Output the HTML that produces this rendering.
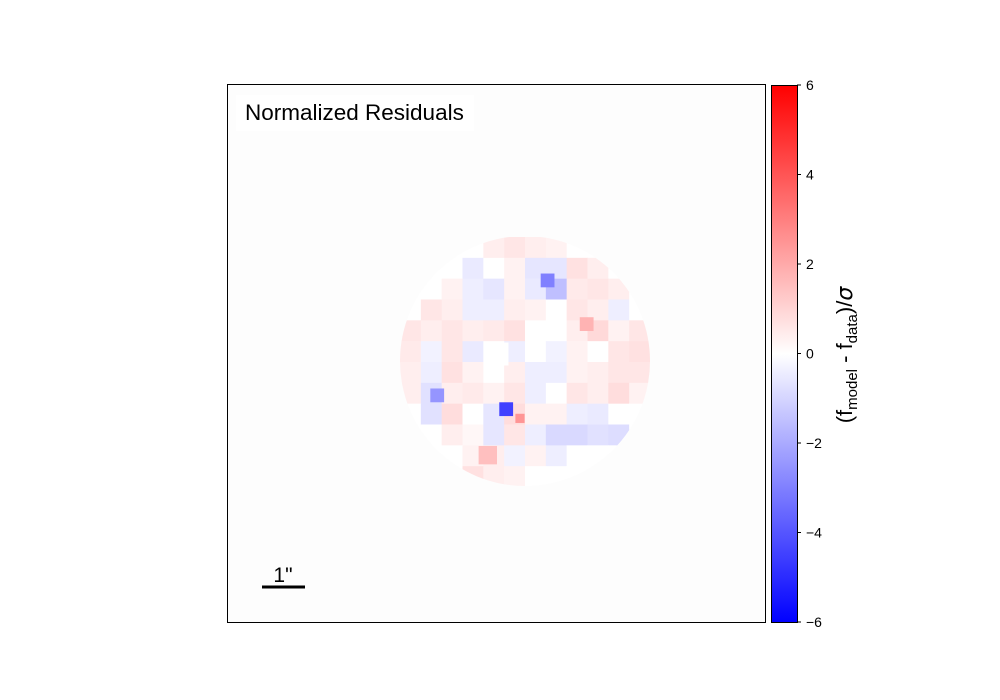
<!DOCTYPE html>
<html><head><meta charset="utf-8"><style>
body{margin:0;background:#fff;}
svg{display:block;font-family:"Liberation Sans","DejaVu Sans",sans-serif;}
</style></head><body>
<svg id="chart" width="1000" height="700" viewBox="0 0 1000 700">
<defs>
<linearGradient id="bwr" x1="0" y1="1" x2="0" y2="0">
<stop offset="0" stop-color="#0000ff"/><stop offset="0.5" stop-color="#ffffff"/><stop offset="1" stop-color="#ff0000"/>
</linearGradient>
<clipPath id="disk"><circle cx="525" cy="361" r="125"/></clipPath>
</defs>
<rect x="228" y="85" width="538" height="538" fill="#fdfdfd"/>
<g id="cells" clip-path="url(#disk)"></g>
<g id="blobs"></g>
<rect x="227.5" y="84.5" width="538" height="538" fill="none" stroke="#000" stroke-width="1" shape-rendering="crispEdges"/>
<rect x="236" y="95" width="238" height="36" fill="#fff"/>
<text x="245" y="120" font-size="22.5" fill="#000">Normalized Residuals</text>
<line x1="262" y1="587" x2="305" y2="587" stroke="#000" stroke-width="3"/>
<text x="283" y="582" font-size="21" text-anchor="middle">1"</text>
<rect x="771.5" y="85.5" width="26" height="537" fill="url(#bwr)" stroke="#000" stroke-width="1" shape-rendering="crispEdges"/>
<g id="cbticks"></g>
<text transform="translate(852,355) rotate(-90)" font-size="22" text-anchor="middle">(f<tspan font-size="15" dy="5">model</tspan><tspan dy="-5"> - f</tspan><tspan font-size="15" dy="5">data</tspan><tspan dy="-5">)/</tspan><tspan font-style="italic" font-family="DejaVu Sans">σ</tspan></text>
</svg>
<script>
const gridValues = [
 [0,0,0,0,0.4,0.6,0.4,0.3,0,0,0,0],
 [0,0,0,-0.5,0,0.3,-0.6,-0.6,0.7,0.4,0,0],
 [0,0,0.3,-0.4,-0.6,0.3,-0.5,-1.5,0.5,0.6,0.4,0],
 [0,0.6,0.4,-0.4,-0.4,0.4,0.3,0,0.6,0.4,-0.4,0],
 [0.6,0.4,0.6,0.4,0.5,0.7,0,0,0.4,0.9,0.3,0.6],
 [0.5,-0.3,0.6,-0.5,0,-0.4,0,-0.3,0.3,0,0.6,0.7],
 [0.4,-0.4,0.7,0.3,0,0.4,-0.4,-0.4,0.3,0.4,0.6,0.6],
 [0.4,-0.7,0.4,0.5,0.3,0.6,-0.4,0,0.6,0.4,0.8,0.3],
 [0,-0.7,0.8,0,-0.6,0.8,0.3,0.3,-0.4,-0.5,0,0],
 [0,0,0.4,0.2,-0.6,0.6,-0.4,-0.9,-0.9,-0.7,-0.8,0],
 [0,0,0,0.3,0.4,-0.3,0.3,-0.4,0,0,0,0],
 [0,0,0,0.7,0.4,0.3,0,0,0,0,0,0]
];
// feature positions in image-pixel units (0..117 across the frame)
const blobCol = [69.5, 58.5, 45.5, 60.5, 63.5, 78, 56.5];
const blobRow = [42.5, 58.5, 67.5, 70.5, 72.5, 52, 80.5];
const blobVal = [-3, 0, -2.5, -4.5, 2.5, 1.8, 1.5];
const blobSize = [3, 5, 3, 3, 2, 3, 4];
const cbTicks = [6,4,2,0,-2,-4,-6];
const cbLabels = ["6","4","2","0","\u22122","\u22124","\u22126"];

const NS="http://www.w3.org/2000/svg";
const imgX0=228, imgY0=85, imgSize=538, nPix=117, pix=imgSize/nPix;
const gx0=400, gy0=237, gCell=250/12;
const xPix = c => imgX0 + c*pix;
const yPix = r => imgY0 + r*pix;
const cbY = v => 353.5 - v*(537/12);
function color(v){
  v=Math.max(-6,Math.min(6,v));
  if(v<0){const t=Math.round(255*(1+v/6));return `rgb(${t},${t},255)`;}
  const t=Math.round(255*(1-v/6));return `rgb(255,${t},${t})`;
}
const cells=document.getElementById('cells');
gridValues.forEach((row,r)=>row.forEach((v,c)=>{
  const el=document.createElementNS(NS,'rect');
  el.setAttribute('x',gx0+c*gCell);el.setAttribute('y',gy0+r*gCell);
  el.setAttribute('width',gCell+0.5);el.setAttribute('height',gCell+0.5);
  el.setAttribute('fill',color(v));
  
  
  cells.appendChild(el);
}));
const blobs=document.getElementById('blobs');
blobVal.forEach((v,i)=>{
  const el=document.createElementNS(NS,'rect');
  const s=blobSize[i]*pix;
  el.setAttribute('x',xPix(blobCol[i])-s/2);el.setAttribute('y',yPix(blobRow[i])-s/2);
  el.setAttribute('width',s);el.setAttribute('height',s);
  el.setAttribute('fill',color(v));
  
  
  blobs.appendChild(el);
});
const tk=document.getElementById('cbticks');
cbTicks.forEach((v,i)=>{
  const y=cbY(v);
  const l=document.createElementNS(NS,'line');
  l.setAttribute('x1',797);l.setAttribute('x2',801);l.setAttribute('y1',y);l.setAttribute('y2',y);
  l.setAttribute('stroke','#000');
  
  
  tk.appendChild(l);
  const t=document.createElementNS(NS,'text');
  t.setAttribute('x',806);t.setAttribute('y',y+5);t.setAttribute('font-size','14');
  t.textContent=cbLabels[i];
  
  
  tk.appendChild(t);
});
</script>
</body></html>
